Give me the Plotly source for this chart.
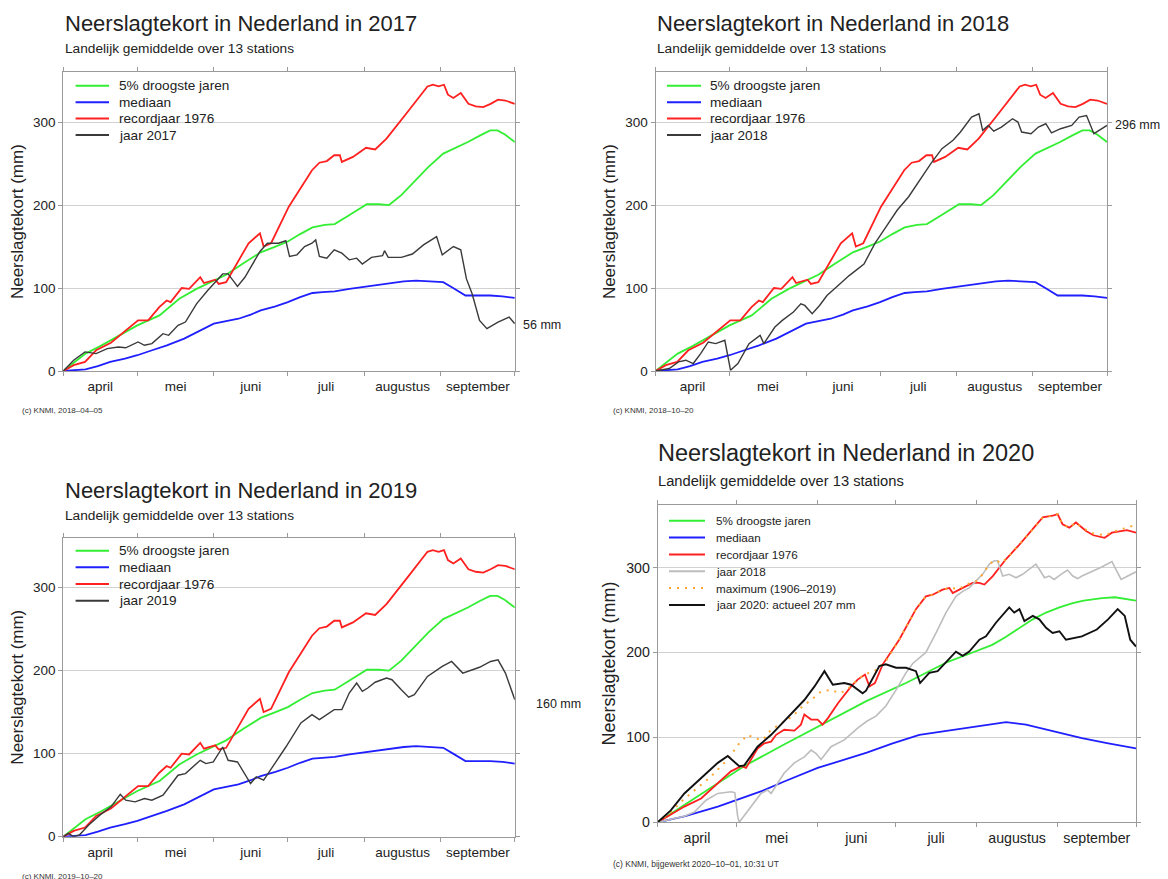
import plotly.graph_objects as go

# ---------------- data (x = days since 1 April, y = deficit in mm) ----------------
MONTH_STARTS = [0, 30, 61, 91, 122, 153, 183]
MONTH_MIDS = [15, 45.5, 76, 106.5, 137.5, 168]
MONTH_NAMES = ["april", "mei", "juni", "juli", "augustus", "september"]
Y_TICKS = [0, 100, 200, 300]

# reference curves used in the 2017, 2018 and 2019 charts
ref_droog = [(0, 0), (5, 12), (9, 21), (15, 30), (22, 42), (30, 55), (39, 67), (47, 87), (54, 99),
             (61, 109), (66, 116), (73, 130), (80, 143), (86, 150), (91, 156), (96, 165), (101, 173),
             (106, 176), (110, 177), (116, 188), (123, 201), (128, 201), (132, 200), (137, 212),
             (142, 228), (148, 246), (154, 262), (159, 269), (164, 276), (169, 284), (173, 290),
             (176, 290), (179, 285), (183, 276)]
ref_mediaan = [(0, 0), (5, 1), (9, 2), (14, 6), (19, 11), (25, 15), (30, 19), (36, 25), (42, 31),
               (49, 39), (55, 48), (61, 57), (66, 60), (71, 63), (76, 68), (80, 73), (86, 78), (91, 83),
               (96, 89), (101, 94), (105, 95), (110, 96), (116, 99), (123, 102), (128, 104), (132, 106),
               (138, 108), (143, 109), (149, 108), (154, 107), (158, 100), (163, 91), (168, 91),
               (173, 91), (178, 90), (183, 88)]
ref_1976 = [(0, 0), (4.2, 7), (8.8, 11), (13.3, 25), (19.3, 34), (25.3, 49), (30.3, 61), (34.4, 61),
            (38.9, 77), (41.9, 85), (43.5, 83), (48, 100), (51, 99), (55.5, 113), (57, 106), (61.6, 110),
            (63, 105), (66, 107), (70.6, 130), (75.1, 154), (79.7, 166), (81.2, 150), (84.2, 154),
            (91.4, 198), (100.8, 242), (103.8, 251), (106.8, 253), (109.8, 260), (112.1, 260),
            (112.9, 252), (117.4, 258), (122.7, 269), (126.4, 267), (131, 280), (140, 314),
            (147.6, 343), (149.8, 345), (152.1, 343), (154.3, 345), (155.9, 333), (158.1, 329),
            (161.1, 335), (164.2, 322), (167.2, 319), (170.2, 318), (173.2, 322), (176.2, 327),
            (179.2, 326), (183, 322)]

jaar_2017 = [(0, 0), (4.2, 13), (8.8, 23), (13.3, 21), (17.8, 27), (22.3, 29), (25.3, 28), (30.3, 35),
             (32.9, 31), (35.9, 33), (40.4, 45), (42.7, 43), (46.5, 55), (49.5, 59), (54, 81), (58.5, 97),
             (64.6, 117), (66.8, 117), (70.6, 102), (73.6, 113), (79.7, 144), (82.7, 154), (87.2, 154),
             (90.2, 157), (91.7, 138), (94.7, 140), (97.8, 150), (100.8, 154), (102.3, 158), (103.8, 138),
             (106.8, 136), (109.8, 146), (112.9, 142), (115.9, 134), (118.9, 136), (121.2, 129),
             (124.9, 137), (129.4, 139), (130.2, 145), (131.7, 137), (137, 137), (141.5, 141),
             (146, 152), (151.3, 162), (153.6, 140), (158.1, 150), (161.1, 146), (163.4, 111),
             (165.7, 93), (168.7, 61), (171.7, 51), (176.2, 59), (180.7, 65), (183, 57)]
jaar_2018 = [(0, 0), (3.3, 2), (5.6, 3), (9.3, 11), (12.3, 13), (15.3, 9), (18.3, 21), (21.4, 35),
             (24.4, 33), (28.1, 37), (30.4, 1), (33.4, 9), (37.9, 33), (42.4, 43), (43.9, 33), (48.4, 53),
             (51.4, 61), (55.9, 71), (58.9, 81), (60.5, 79), (63.5, 69), (66.5, 79), (69.5, 91),
             (75.5, 107), (78.5, 115), (84.5, 129), (89, 154), (93.5, 174), (98, 194), (102.6, 210),
             (107.1, 230), (111.6, 250), (116.1, 268), (120.6, 278), (123.6, 288), (128.1, 306),
             (131.1, 310), (132.6, 290), (134.9, 296), (137.1, 289), (140.2, 294), (144.7, 304),
             (146.9, 300), (148.4, 288), (152.2, 286), (155.2, 294), (158.2, 298), (160.5, 287),
             (164.2, 292), (168.7, 296), (171.7, 306), (174.7, 308), (177.7, 286), (183, 296)]
jaar_2019 = [(0, 0), (2, 4), (4.2, 0), (6.5, 2), (10.3, 14), (14.8, 26), (19.3, 36), (23.1, 51),
             (25.3, 44), (29.1, 42), (32.9, 46), (35.9, 44), (40.4, 50), (43.5, 62), (46.5, 74),
             (49.5, 76), (52.5, 84), (55.5, 92), (57.8, 88), (60.8, 90), (64.6, 108), (66.8, 92),
             (70.6, 90), (73.6, 76), (75.9, 64), (78.2, 72), (81.2, 68), (85.7, 88), (90.2, 108),
             (96.3, 137), (100.8, 147), (103.8, 141), (106.8, 147), (109.8, 153), (112.9, 153),
             (115.9, 173), (118.9, 185), (121.2, 175), (123.4, 179), (126.4, 186), (131, 191),
             (133.2, 189), (137, 177), (140, 168), (142.3, 171), (147.6, 193), (153.6, 205),
             (157.4, 211), (161.9, 197), (165.7, 201), (168.7, 204), (173.2, 211), (176.2, 213),
             (179.2, 197), (183, 165)]
end_labels = [56, 296, 160]

# 2020 chart (updated reference curves)
droog_2020 = [(0, 0), (10, 20), (20, 40), (33, 66), (48, 91), (63, 115), (80, 143), (95, 164),
              (111, 189), (118, 197), (128, 209), (133, 218), (138, 228), (143.5, 239), (148.6, 247),
              (153.7, 253), (158.8, 258), (163, 261), (170, 264), (175, 265), (183, 261)]
mediaan_2020 = [(0, 0), (10.2, 7), (23, 18.5), (30.2, 26), (40, 37), (48.4, 48), (61.2, 64), (80, 82),
                (89.9, 93), (100.1, 103), (114.1, 109), (121.8, 113), (133.3, 118), (140.9, 115),
                (151.1, 107), (162.3, 99), (172.4, 93), (183, 87)]
rec1976_2020 = [(0, 0), (3.8, 7), (10.2, 18.5), (16.6, 28), (23, 46), (28, 60), (31.9, 66), (33.8, 64),
                (38.2, 87), (40.8, 93), (43.4, 95), (45.3, 103), (48.4, 109), (52.3, 108), (54.8, 115),
                (56.1, 127), (58.7, 121), (61.2, 121), (63.1, 115), (65.2, 123), (68.9, 140), (74, 160),
                (76.5, 168), (79.3, 174), (81, 160), (83.1, 164), (86.1, 186), (92.4, 215), (98.8, 251),
                (102.6, 266), (105.2, 268), (109, 274), (111.6, 276), (112.9, 270), (115.4, 274),
                (118, 278), (120.5, 282), (123, 282), (125, 280), (128.2, 290), (133.3, 310),
                (138.4, 327), (143.5, 345), (147.3, 359), (151.1, 361), (153, 363), (154.9, 351),
                (157.5, 347), (160, 353), (162.3, 347), (163.9, 343), (166.7, 338), (171, 335),
                (173.8, 341), (179.5, 344), (183, 341)]
jaar2018_2020 = [(0, 0), (10.2, 7), (14, 12), (18.5, 26), (23, 34), (28, 36), (29.5, 35), (30.6, 7),
                 (31.2, 0), (35.7, 18), (39.5, 34), (42, 38), (43.4, 34), (48.4, 58), (52.3, 70),
                 (56.1, 77), (58.7, 85), (60.6, 81), (62.5, 74), (66.3, 89), (71.4, 97), (76.5, 111),
                 (80, 119), (83.5, 125), (87.3, 137), (91.2, 156), (95, 176), (97.6, 187), (102.6, 200),
                 (106.5, 223), (110.3, 247), (114.1, 266), (116.7, 272), (119.2, 276), (121.8, 284),
                 (124.3, 292), (126.9, 304), (128.8, 308), (130, 308), (132, 290), (134.5, 292),
                 (137.1, 288), (139.6, 292), (142.2, 298), (144.7, 304), (146, 298), (148, 288),
                 (149.8, 290), (151.7, 286), (154.3, 292), (156.8, 297), (158.8, 290), (160.7, 287),
                 (162.3, 290), (169.5, 300), (173.8, 307), (177.3, 286), (183, 295)]
maximum_2020 = [(0, 0), (5, 12), (9.6, 26), (15, 40), (20.4, 54), (26.8, 74), (31.2, 93), (34.5, 103),
                (37, 99), (40.2, 97), (43.4, 109), (49.7, 121), (52.3, 127), (55.5, 137), (58.7, 144),
                (62.5, 154), (66.3, 156), (69.5, 152), (72, 155), (76.5, 168), (79, 174), (83, 178),
                (87.4, 190), (92.4, 215), (98.8, 251), (102.6, 266), (105.2, 268), (109, 274),
                (111.6, 276), (115.4, 275), (118, 280), (121.8, 284), (124.3, 292), (126.9, 304),
                (128.8, 308), (130, 308), (131, 305), (133.3, 310), (138.4, 327), (143.5, 345),
                (147.3, 359), (151.1, 361), (153, 363), (154.9, 351), (157.5, 347), (160, 353),
                (162.3, 347), (166.7, 340), (171, 338), (173.8, 341), (177, 345), (180, 347), (183, 351)]
jaar_2020 = [(0, 0), (5, 14), (10.2, 34), (16.6, 52), (23, 70), (26.8, 78), (31.2, 66), (33.1, 67),
             (38.2, 89), (43.4, 103), (48.5, 119), (52.3, 131), (56.1, 144), (60, 160), (63.8, 178),
             (67, 162), (71.4, 164), (74, 162), (78.4, 152), (79.7, 155), (84.8, 184), (87.3, 186),
             (91.2, 182), (95, 182), (98.8, 178), (100.4, 164), (103.9, 176), (107.1, 178), (110.3, 188),
             (114.1, 201), (116.7, 196), (119.2, 201), (123.1, 215), (125.6, 219), (129.4, 235),
             (134.5, 253), (136.4, 247), (138.4, 251), (140.3, 237), (143.5, 243), (146, 239),
             (148.6, 229), (151.1, 223), (153.7, 225), (156.2, 215), (160, 217), (162.3, 219),
             (168, 227), (172.3, 239), (176, 251), (178.7, 243), (180.8, 215), (183, 207)]

# ---------------- styling ----------------
W, H = 1168, 879          # reference picture size; positions below are in its pixels
FIG_H = 887               # figure height that maps onto that picture after capture
FONT = "Liberation Sans, Arial, Helvetica, sans-serif"
TEXT = "#222222"
FRAME = "#9a9a9a"
GRID = "#d2d2d2"
GREEN = "#33ee33"
BLUE = "#1f1fff"
RED = "#ff2020"
DARK = "#3a3a3a"
LIGHT = "#bdbdbd"
ORANGE = "#ffa530"
BLACK = "#111111"
ORANGE_DASH = "2px,6px"

# suffix, left, right, top, bottom (pixels), y max, tick font, axis-title font
PANELS = [
    ("", 63.3, 514.8, 72.3, 371.0, 360, 13.5, 17),
    ("2", 655.5, 1107.0, 72.3, 371.0, 360, 13.5, 17),
    ("3", 63.3, 514.8, 537.7, 836.7, 360, 13.5, 17),
    ("4", 657.7, 1136.0, 504.7, 822.3, 374, 14.2, 18),
]

fig = go.Figure()


def add_line(points, name, color, width, suffix, dash="solid"):
    xs = [p[0] for p in points]
    ys = [p[1] for p in points]
    fig.add_trace(go.Scatter(
        x=xs, y=ys, mode="lines", name=name,
        line=dict(color=color, width=width, dash=dash),
        xaxis="x" + suffix, yaxis="y" + suffix, showlegend=False,
        hoverinfo="x+y+name",
    ))


years = [("2017", jaar_2017), ("2018", jaar_2018), ("2019", jaar_2019)]
for (suffix, *_), (year, series) in zip(PANELS[:3], years):
    add_line(ref_droog, "5% droogste jaren", GREEN, 1.8, suffix)
    add_line(ref_mediaan, "mediaan", BLUE, 1.8, suffix)
    add_line(ref_1976, "recordjaar 1976", RED, 1.8, suffix)
    add_line(series, f"jaar {year}", DARK, 1.4, suffix)

add_line(droog_2020, "5% droogste jaren", GREEN, 1.8, "4")
add_line(mediaan_2020, "mediaan", BLUE, 1.8, "4")
add_line(rec1976_2020, "recordjaar 1976", RED, 1.8, "4")
add_line(jaar2018_2020, "jaar 2018", LIGHT, 1.6, "4")
add_line(maximum_2020, "maximum (1906–2019)", ORANGE, 2, "4", dash=ORANGE_DASH)
add_line(jaar_2020, "jaar 2020: actueel 207 mm", BLACK, 1.9, "4")

layout = dict(
    width=W, height=FIG_H,
    margin=dict(l=0, r=0, t=0, b=0),
    paper_bgcolor="white", plot_bgcolor="white",
    font=dict(family=FONT, color=TEXT),
    showlegend=False,
)

for suffix, left, right, top, bottom, ymax, tick_size, title_size in PANELS:
    layout["xaxis" + suffix] = dict(
        domain=[left / W, right / W], anchor="y" + suffix, range=[0, 183],
        tickmode="array", tickvals=MONTH_MIDS, ticktext=MONTH_NAMES, ticks="",
        ticklabelstandoff=3,
        tickfont=dict(size=tick_size, color=TEXT),
        showgrid=False, zeroline=False,
        showline=True, linecolor=FRAME, linewidth=1, mirror="ticks",
        minor=dict(tickmode="array", tickvals=MONTH_STARTS, ticks="outside",
                   ticklen=4, tickcolor=FRAME, tickwidth=1, showgrid=False),
        fixedrange=True,
    )
    layout["yaxis" + suffix] = dict(
        domain=[1 - bottom / H, 1 - top / H], anchor="x" + suffix, range=[0, ymax],
        tickmode="array", tickvals=Y_TICKS, ticks="outside", ticklen=4,
        tickcolor=FRAME, tickfont=dict(size=tick_size, color=TEXT),
        showgrid=True, gridcolor=GRID, gridwidth=1, zeroline=False,
        showline=True, linecolor=FRAME, linewidth=1, mirror="ticks",
        title=dict(text="Neerslagtekort (mm)", font=dict(size=title_size, color=TEXT), standoff=5),
        fixedrange=True,
    )

annotations = []
shapes = []


def text_at(x_px, y_px, text, size, color=TEXT):
    annotations.append(dict(
        xref="paper", yref="paper", x=x_px / W, y=1 - y_px / H,
        xanchor="left", yanchor="middle", text=text, showarrow=False,
        font=dict(family=FONT, size=size, color=color),
    ))


text_at(63, 23, "Neerslagtekort in Nederland in 2017", 22)
text_at(655, 23, "Neerslagtekort in Nederland in 2018", 22)
text_at(63, 490, "Neerslagtekort in Nederland in 2019", 22)
text_at(656, 453, "Neerslagtekort in Nederland in 2020", 23.5)

text_at(63, 49, "Landelijk gemiddelde over 13 stations", 13.7)
text_at(655, 49, "Landelijk gemiddelde over 13 stations", 13.7)
text_at(63, 515, "Landelijk gemiddelde over 13 stations", 13.7)
text_at(656, 481, "Landelijk gemiddelde over 13 stations", 14.7)

text_at(20, 410, "(c) KNMI, 2018–04–05", 8, "#333333")
text_at(611, 410, "(c) KNMI, 2018–10–20", 8, "#333333")
text_at(20, 876, "(c) KNMI, 2019–10–20", 8, "#333333")
text_at(611, 864, "(c) KNMI, bijgewerkt 2020–10–01, 10:31 UT", 8.5, "#333333")

# value labels at the right of the 2017-2019 charts
for (suffix, *_), value, shift in zip(PANELS[:3], end_labels, [6, 6, 19]):
    annotations.append(dict(
        xref="x" + suffix, yref="y" + suffix, x=183, y=value, xanchor="left", yanchor="middle",
        xshift=shift, text=f"{value} mm", showarrow=False,
        font=dict(family=FONT, size=12.5, color=TEXT),
    ))

# legends drawn as key lines + labels, each on a white box hiding the grid line
ref_keys = [("5% droogste jaren", GREEN, "solid"), ("mediaan", BLUE, "solid"),
            ("recordjaar 1976", RED, "solid")]
legends = [
    # (left, right of white box), key line x0, x1, text x, first row y, row step, font, entries
    ((64, 250), 75.6, 109, 116.5, 85.7, 16.45, 13.6, ref_keys + [("jaar 2017", DARK, "solid")], (73, 146)),
    ((656, 844), 667, 701, 708.3, 85.7, 16.45, 13.6, ref_keys + [("jaar 2018", DARK, "solid")], (73, 146)),
    ((64, 250), 75.6, 109, 116.5, 550.7, 16.65, 13.6, ref_keys + [("jaar 2019", DARK, "solid")], (538.5, 612)),
    ((658.5, 854), 669, 705, 713.7, 520.7, 16.85, 11.7,
     ref_keys + [("jaar 2018", LIGHT, "solid"), ("maximum (1906–2019)", ORANGE, ORANGE_DASH),
                 ("jaar 2020: actueel 207 mm", BLACK, "solid")], (505.5, 615)),
]
for (bx0, bx1), kx0, kx1, tx, y0, step, size, entries, (by0, by1) in legends:
    shapes.append(dict(type="rect", xref="paper", yref="paper", layer="between",
                       x0=bx0 / W, x1=bx1 / W, y0=1 - by1 / H, y1=1 - by0 / H,
                       fillcolor="white", line=dict(width=0)))
    for i, (label, color, dash) in enumerate(entries):
        y = y0 + i * step
        shapes.append(dict(type="line", xref="paper", yref="paper",
                           x0=kx0 / W, x1=kx1 / W, y0=1 - y / H, y1=1 - y / H,
                           line=dict(color=color, width=2, dash=dash)))
        text_at(tx, y, label, size)

layout["annotations"] = annotations
layout["shapes"] = shapes
fig.update_layout(**layout)

page_fix = (
    "document.documentElement.style.margin='0';"
    "document.body.style.margin='0';"
    "document.body.style.lineHeight='0';"
    "var gd=document.querySelector('.plotly-graph-div');"
    "gd.style.overflow='hidden';gd.style.display='block';"
)
fig.write_html("out.html", config={"displayModeBar": False}, post_script=page_fix)
